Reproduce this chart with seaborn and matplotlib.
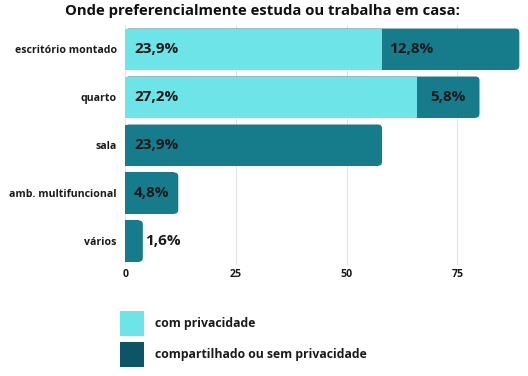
import matplotlib
matplotlib.use("Agg")
import matplotlib.pyplot as plt
from matplotlib import font_manager as fm
from matplotlib.patches import Patch, FancyBboxPatch
import numpy as np
import pandas as pd
import seaborn as sns

# data (counts, labels as printed)
locais = ['escritório montado', 'quarto', 'sala', 'amb. multifuncional', 'vários']
com_priv = [58, 66, 0, 0, 0]
sem_priv = [31, 14, 58, 12, 4]
lab_com = ['23,9%', '27,2%', '', '', '']
lab_sem = ['12,8%', '5,8%', '23,9%', '4,8%', '1,6%']

light = '#6ce4e8'
dark = '#167b8a'
dark_leg = '#0c5567'

sns.set_theme(style='white')
plt.rcParams['font.family'] = ['Open Sans', 'DejaVu Sans']

# static bold Open Sans file
bold_path = [f.fname for f in fm.fontManager.ttflist if f.fname.endswith('OpenSans-Bold.ttf')]
def bold(size):
    if bold_path:
        return fm.FontProperties(fname=bold_path[0], size=size)
    return fm.FontProperties(family='Open Sans', weight='bold', size=size)

df = pd.DataFrame({'local': locais, 'com': com_priv, 'sem': sem_priv})
df['total'] = df['com'] + df['sem']

fig = plt.figure(figsize=(5.28, 3.76), dpi=100)
ax = fig.add_axes([0.237, 0.295, 0.755, 0.638])

sns.barplot(data=df, y='local', x='total', color=dark, orient='h',
            width=0.86, saturation=1, linewidth=0, ax=ax, zorder=2)
sns.barplot(data=df, y='local', x='com', color=light, orient='h',
            width=0.86, saturation=1, linewidth=0, ax=ax, zorder=3)

ax.set_xlim(0, 90)
ax.set_ylim(4.5, -0.5)

# round the right end of the full bars
r = 0.9
asp = (5 / (0.638 * 376)) / (90 / (0.755 * 528))
for rect in ax.containers[0]:
    x0, y0, w, h = rect.get_x(), rect.get_y(), rect.get_width(), rect.get_height()
    if w <= 2 * r:
        continue
    rect.set_width(w - r)
    ax.add_patch(FancyBboxPatch((x0, y0), w, h,
                                boxstyle=f"round,pad=0,rounding_size={r}",
                                mutation_aspect=asp, fc=dark, ec='none', lw=0, zorder=2))

for i in range(len(locais)):
    if com_priv[i] > 0:
        ax.text(2, i, lab_com[i], va='center', ha='left', fontproperties=bold(11),
                color='#1a1a1a', zorder=5)
        if sem_priv[i] > 20:
            ax.text(com_priv[i] + 1.7, i, lab_sem[i], va='center', ha='left',
                    fontproperties=bold(11), color='#1a1a1a', zorder=5)
        else:
            ax.text(com_priv[i] + sem_priv[i] / 2, i, lab_sem[i], va='center',
                    ha='center', fontproperties=bold(11), color='#1a1a1a', zorder=5)
    else:
        x = 2 if sem_priv[i] > 8 else sem_priv[i] + 0.4
        ax.text(x, i, lab_sem[i], va='center', ha='left', fontproperties=bold(11),
                color='#1a1a1a', zorder=5)

ax.set_xticks([0, 25, 50, 75])
ax.xaxis.grid(True, color='#e3e3e3', linewidth=0.8, zorder=0)
ax.set_axisbelow(True)
for s in ax.spines.values():
    s.set_visible(False)
ax.tick_params(axis='y', length=0, pad=6)
ax.tick_params(axis='x', length=0, pad=3)
for t in ax.get_xticklabels() + ax.get_yticklabels():
    t.set_fontproperties(bold(7.6))
    t.set_color('#1a1a1a')
ax.set_xlabel('')
ax.set_ylabel('')

fig.suptitle('Onde preferencialmente estuda ou trabalha em casa:', x=0.497, y=0.99,
             fontproperties=bold(10.7), color='#111111')

handles = [Patch(facecolor=light, edgecolor='none', label='com privacidade'),
           Patch(facecolor=dark_leg, edgecolor='none', label='compartilhado ou sem privacidade')]
leg = fig.legend(handles=handles, loc='lower left', bbox_to_anchor=(0.207, -0.005),
                 frameon=False, prop=bold(8.8), handlelength=1.97, handleheight=2.77,
                 labelspacing=0.5, handletextpad=0.9)
for t in leg.get_texts():
    t.set_color('#1a1a1a')

fig.savefig('out.png', dpi=100)
